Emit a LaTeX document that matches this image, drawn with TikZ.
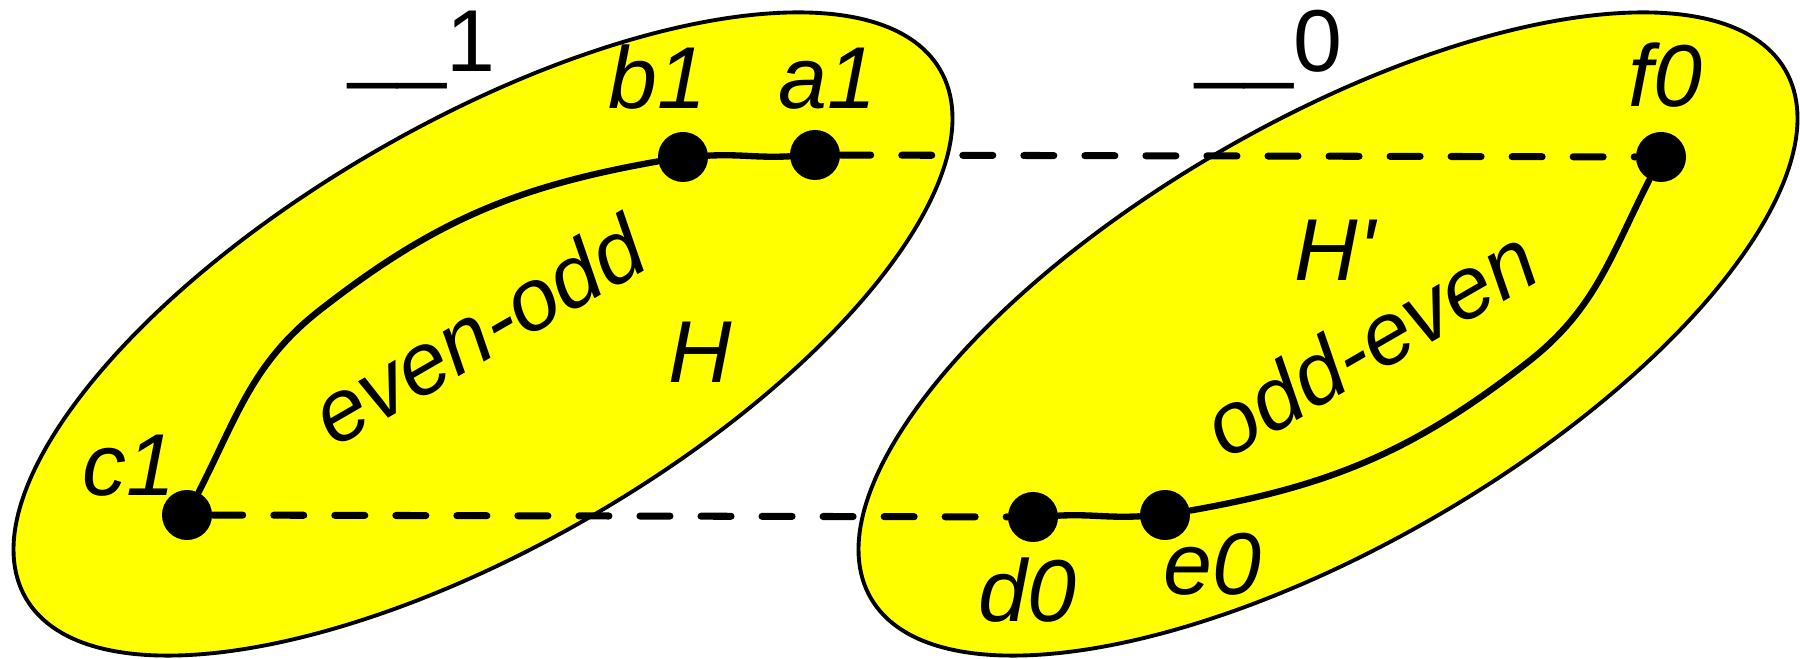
\documentclass[tikz,border=0pt]{standalone}
\usepackage{fontspec}
\setmainfont{Liberation Sans}
\usetikzlibrary{positioning}
\definecolor{setyellow}{RGB}{255,255,0}
\tikzset{
  gset/.style ={draw=black, line width=1.1pt, fill=setyellow},
  vtx/.style  ={circle, fill=black, inner sep=0pt, minimum size=0.5cm},
  vlbl/.style ={font=\fontsize{25}{30}\selectfont\itshape, inner sep=0pt, anchor=base west},
  tlbl/.style ={font=\fontsize{25}{30}\selectfont, inner sep=0pt, anchor=base west},
  spath/.style={line width=1.8pt, line cap=round},
  dpath/.style={line width=2pt, line cap=round, dash pattern=on 0.3cm off 0.31cm},
}
\begin{document}
\begin{tikzpicture}[x=0.01cm, y=-0.01cm]
  \useasboundingbox (0,0) rectangle (1800,659);
  % the two sets
  \draw[gset, rotate around={30:(483,334)}] (483,334) ellipse [x radius=528, y radius=212];
  \draw[gset, rotate around={30:(1328,334)}] (1328,334) ellipse [x radius=528, y radius=212];
  % vertices
  \node[vtx] (c1) at (187,515) {};
  \node[vtx] (b1) at (683,157) {};
  \node[vtx] (a1) at (815,155) {};
  \node[vtx] (d0) at (1033,517) {};
  \node[vtx] (e0) at (1165,515) {};
  \node[vtx] (f0) at (1661,157) {};
  \coordinate (p1) at (320,310);
  \coordinate (q1) at (1528,362);
  % paths
  \draw[dpath] (a1) -- (f0);
  \draw[dpath] (c1) -- (d0);
  \draw[spath] (c1) to[out=63, in=218] (p1) to[out=38, in=190] (b1);
  \draw[spath] (b1) to[out=3, in=183] (a1);
  \draw[spath] (d0) to[out=3, in=183] (e0);
  \draw[spath] (e0) to[out=10, in=218] (q1) to[out=38, in=243] (f0);
  % labels
  \node[vlbl] (lc1) at (82,496) {c1};
  \node[vlbl] (lb1) at (608,109) {b1};
  \node[vlbl] (la1) at (778,109) {a1};
  \node[vlbl] (lf0) at (1628,107) {f0};
  \node[vlbl] (ld0) at (978,622) {d0};
  \node[vlbl] (le0) at (1163,595) {e0};
  \node[tlbl] (s1) at (348,72) {\_\_1};
  \node[tlbl] (s0) at (1195,72) {\_\_0};
  \node[vlbl, anchor=center] (lH) at (700,352) {H};
  \node[vlbl, anchor=center] (lHp) at (1335,250) {H\textquotesingle};
  \node[vlbl, anchor=center, rotate=30] (eo) at (478,330) {even-odd};
  \node[vlbl, anchor=center, rotate=30] (oe) at (1370,342) {odd-even};
\end{tikzpicture}
\end{document}
